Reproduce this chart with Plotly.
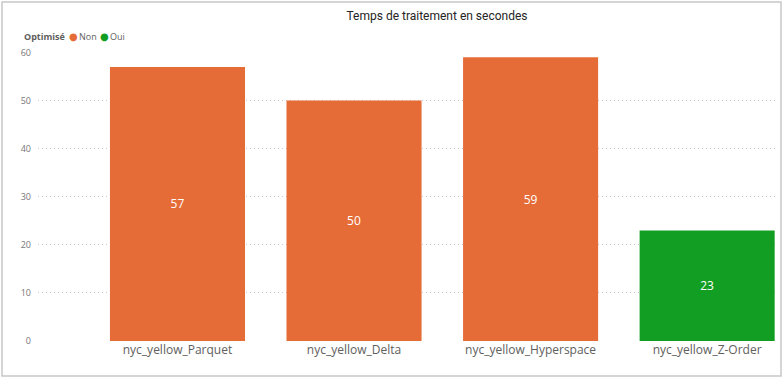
import plotly.graph_objects as go

categories = ["nyc_yellow_Parquet", "nyc_yellow_Delta", "nyc_yellow_Hyperspace", "nyc_yellow_Z-Order"]
optimise = ["Non", "Non", "Non", "Oui"]
valeurs = [57, 50, 59, 23]
groupes = ["Non", "Oui"]
couleurs = {"Non": "#E66C37", "Oui": "#119E22"}

W, H = 784, 379
L, R, T, B = 38, 8, 52, 38
pw, ph = W - L - R, H - T - B

def px_x(p):
    return (p - L) / pw

def px_y(p):
    return (H - B - p) / ph

fig = go.Figure()
for grp in groupes:
    xs = [c for c, o in zip(categories, optimise) if o == grp]
    ys = [v for v, o in zip(valeurs, optimise) if o == grp]
    fig.add_trace(go.Bar(
        x=xs, y=ys, name=grp, marker_color=couleurs[grp], marker_line_width=0,
        width=0.765, text=[str(v) for v in ys], textposition="inside",
        insidetextanchor="middle", textangle=0,
        textfont=dict(color="white", size=12, family="Open Sans"),
        hoverinfo="x+y", showlegend=False,
    ))

fig.add_annotation(xref="paper", yref="paper", x=px_x(22), y=px_y(36), xanchor="left", yanchor="middle",
                   showarrow=False, text="<b>Optimisé</b>",
                   font=dict(size=9, color="#605E5C", family="Open Sans"))
# legend entries: coloured dot + label
legend_x = {"Non": 69, "Oui": 100}
for g in groupes:
    fig.add_annotation(xref="paper", yref="paper", x=px_x(legend_x[g] + 4), y=px_y(36), xanchor="center",
                       yanchor="middle", showarrow=False, text="●",
                       font=dict(size=10, color=couleurs[g], family="DejaVu Sans"))
    fig.add_annotation(xref="paper", yref="paper", x=px_x(legend_x[g] + 8), y=px_y(36), xanchor="left",
                       yanchor="middle", showarrow=False, text=g,
                       font=dict(size=9, color="#605E5C", family="Open Sans"))

fig.update_layout(
    width=W, height=H, barmode="overlay", showlegend=False,
    margin=dict(l=L, r=R, t=T, b=B),
    paper_bgcolor="white", plot_bgcolor="white",
    title=dict(text="Temps de traitement en secondes", x=437 / W, xanchor="center",
               y=1 - 16 / H, yanchor="middle",
               font=dict(family="Roboto", size=12, color="#252423")),
    xaxis=dict(categoryorder="array", categoryarray=categories, range=[-0.79, 3.39],
               showgrid=False, showline=False, ticks="", zeroline=False,
               tickfont=dict(family="Open Sans", size=12, color="#605E5C")),
    yaxis=dict(range=[0, 60.1], tickvals=[0, 10, 20, 30, 40, 50, 60], showgrid=True,
               gridcolor="#C8C8C8", griddash="1px,3px", gridwidth=1, zeroline=False,
               showline=False, ticks="", ticklabelstandoff=6,
               tickfont=dict(family="Open Sans", size=9, color="#777777")),
)

fig.add_shape(type="rect", xref="paper", yref="paper",
              x0=px_x(2), x1=px_x(781), y0=px_y(376), y1=px_y(2),
              line=dict(color="#C8C8C8", width=1.5), fillcolor="rgba(0,0,0,0)", layer="below")

fig.write_html("out.html", config={"displayModeBar": False},
               post_script="document.body.style.margin='0';document.body.style.overflow='hidden';")
